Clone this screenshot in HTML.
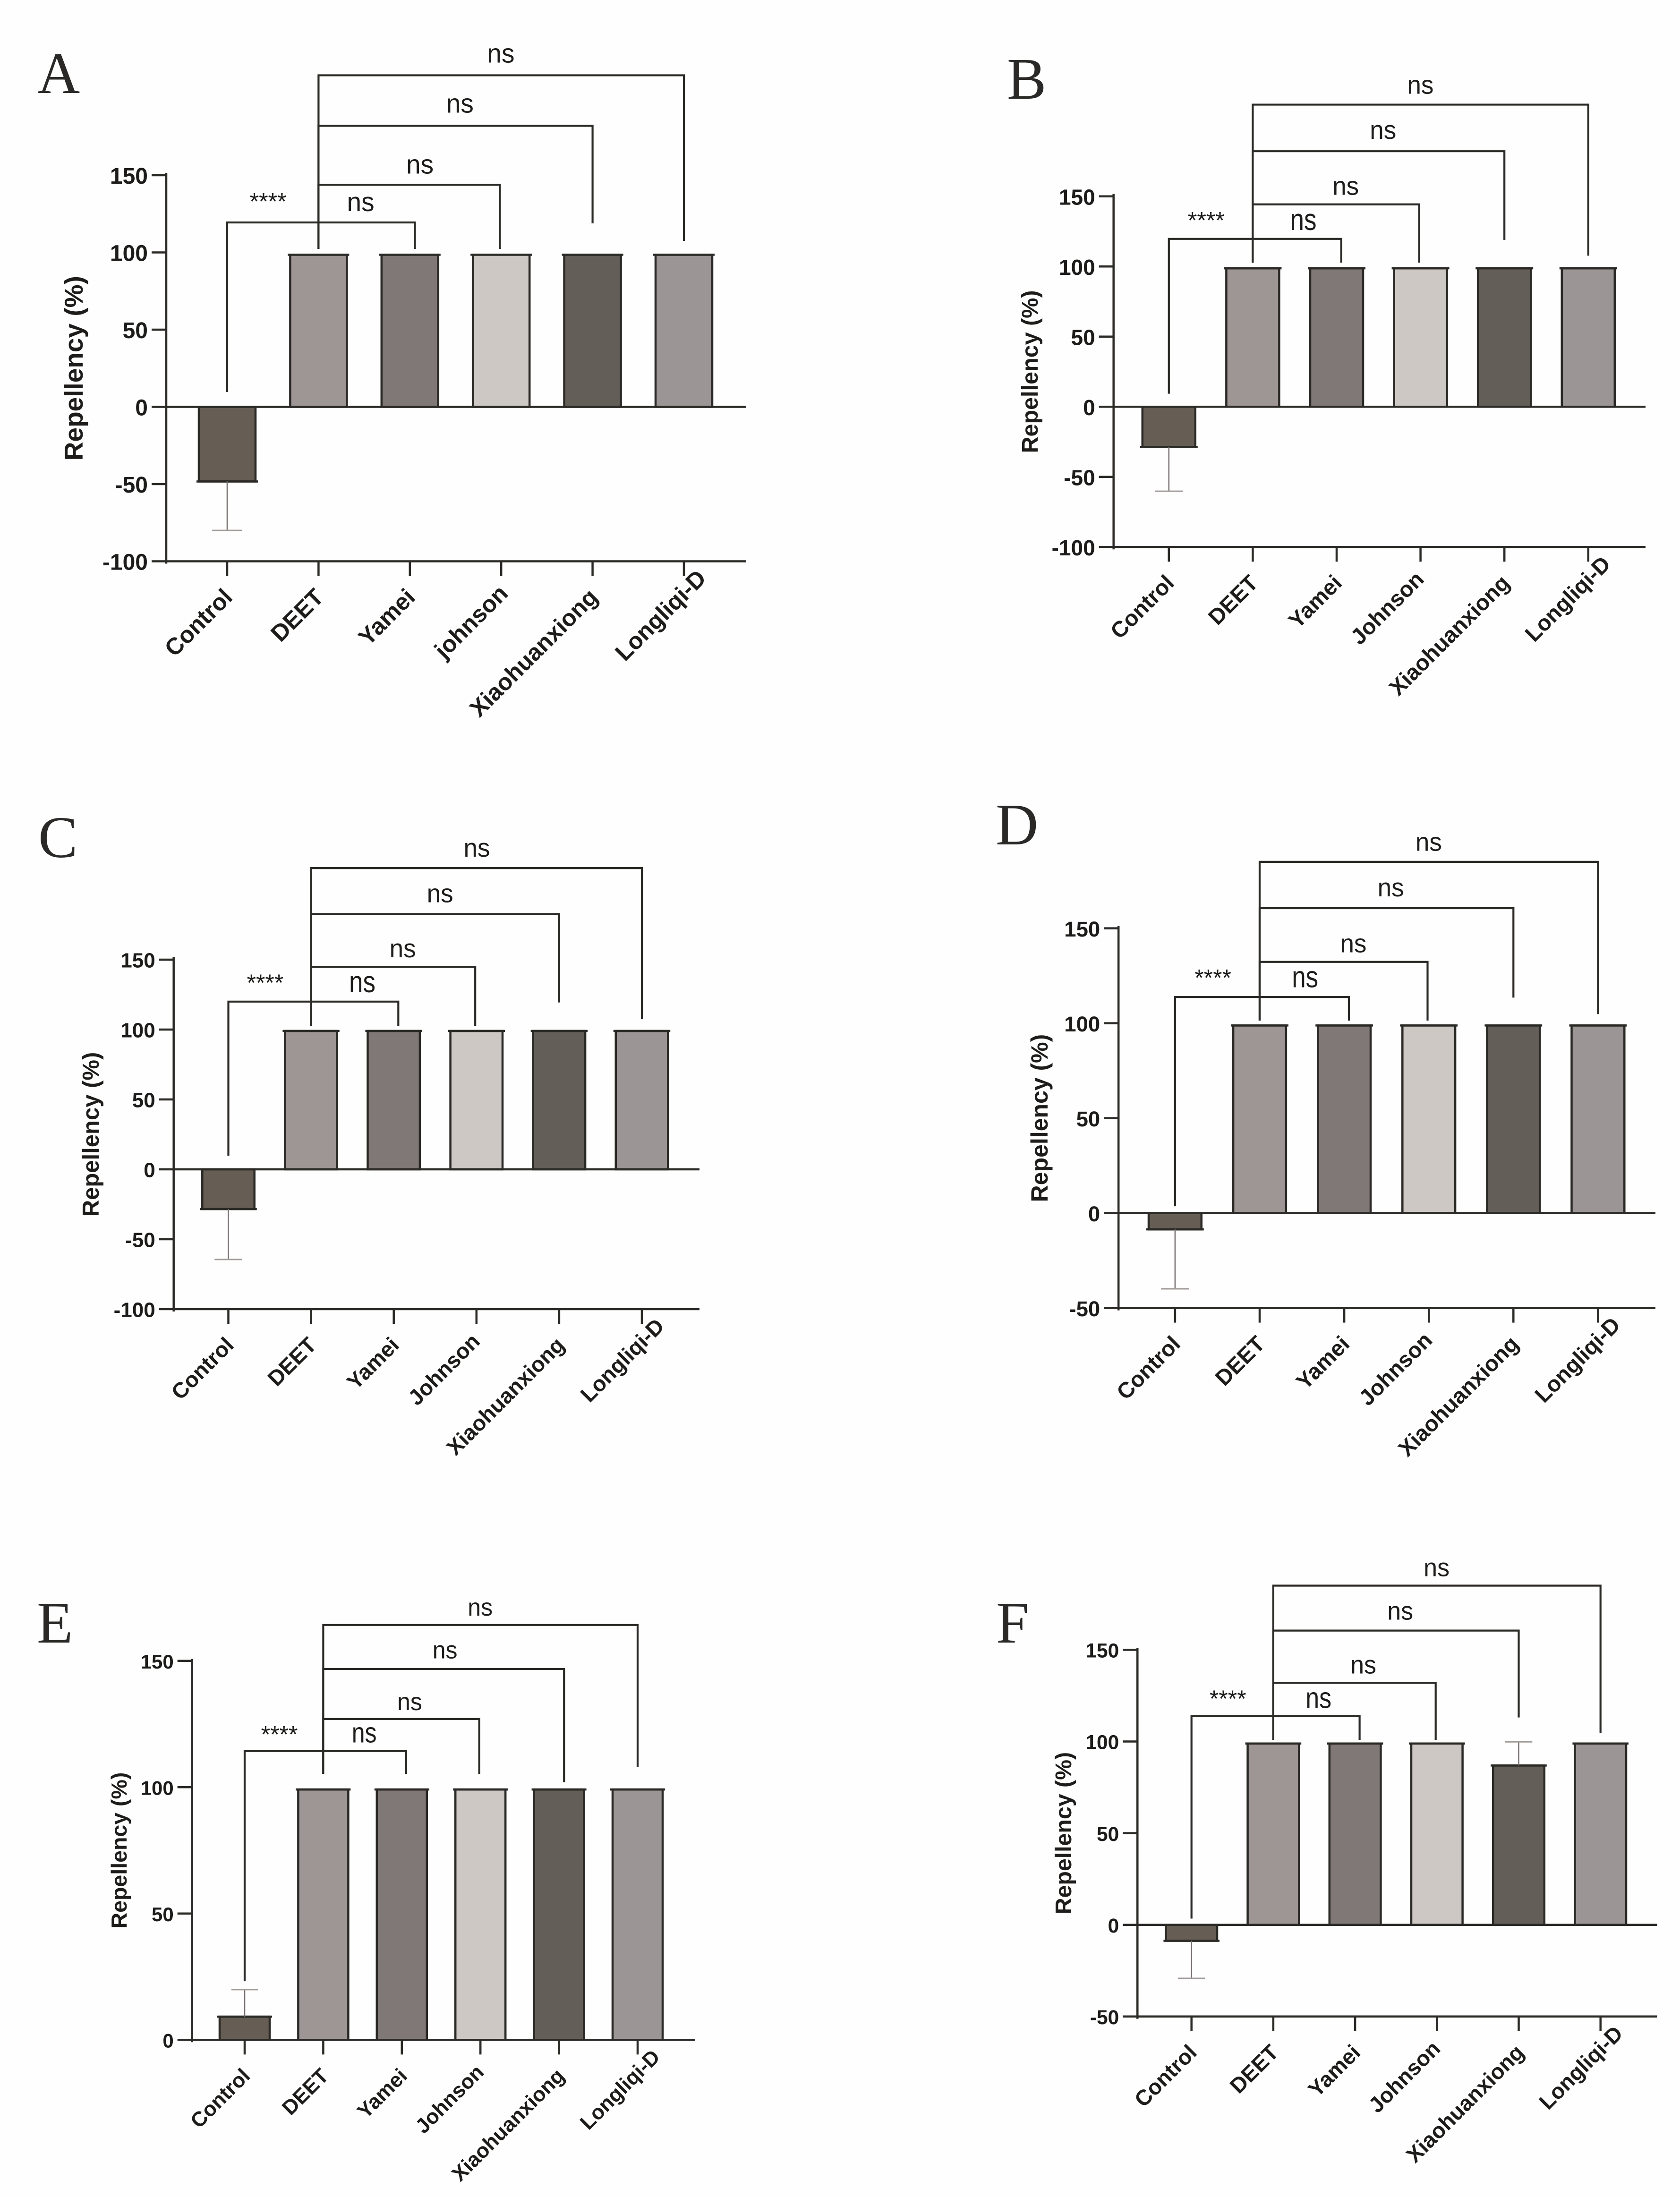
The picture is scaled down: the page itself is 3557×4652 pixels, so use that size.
<!DOCTYPE html>
<html lang="en">
<head>
<meta charset="utf-8">
<title>Repellency bar charts, panels A to F</title>
<style>
html,body{margin:0;padding:0;background:#fefefe;}
svg{display:block;}
text{fill:#1d1c1a;}
</style>
</head>
<body>
<svg id="figure" xmlns="http://www.w3.org/2000/svg" width="3557" height="4652" viewBox="0 0 3557 4652"></svg>
<script>
const categoriesA = ["Control","DEET","Yamei","johnson","Xiaohuanxiong","Longliqi-D"];
const categoriesB = ["Control","DEET","Yamei","Johnson","Xiaohuanxiong","Longliqi-D"];

const ticksWide = [150,100,50,0,-50,-100];
const ticksMid = [150,100,50,0,-50];
const ticksShort = [150,100,50,0];

const valuesA = [-48.3,98.5,98.5,98.5,98.5,98.5];
const errorsA = [-80,null,null,null,null,null];
const bracketTopsA = [119.4,143.8,182,214.7];
const leftDropsA = [9.6,102.3,102.3,102.3];
const rightDropsA = [102.3,102.3,118.8,107.4];
const labelCatsA = [1.461,2.11,2.548,2.996];
const labelValsA = [131.2,155.6,195,227.4];

const valuesB = [-28.6,98.7,98.7,98.7,98.7,98.7];
const errorsB = [-60.2,null,null,null,null,null];
const bracketTopsB = [119.7,144.3,182.2,215.4];
const leftDropsB = [9.3,102.7,102.7,102.7];
const rightDropsB = [102.7,102.7,119,107.7];
const labelCatsB = [1.603,2.108,2.553,2.999];
const labelValsB = [131.6,155.9,195.8,228];

const valuesC = [-28.4,99,99,99,99,99];
const errorsC = [-64.5,null,null,null,null,null];
const bracketTopsC = [120,144.8,182.6,215.5];
const leftDropsC = [9.7,102.6,102.6,102.6];
const rightDropsC = [102.6,102.6,119.4,107.4];
const labelCatsC = [1.619,2.108,2.559,3.004];
const labelValsC = [132.3,156.5,195.8,228.4];

const valuesD = [-8.6,98.8,98.8,98.8,98.8,98.8];
const errorsD = [-39.9,null,null,null,null,null];
const bracketTopsD = [113.8,132.3,160.6,185];
const leftDropsD = [3.6,101.4,101.4,101.4];
const rightDropsD = [101.4,101.4,113.5,104.8];
const labelCatsD = [1.537,2.108,2.55,2.998];
const labelValsD = [123,140.9,170.3,194.3];

const valuesE = [9.2,99.1,99.1,99.1,99.1,99.1];
const errorsE = [19.9,null,null,null,null,null];
const bracketTopsE = [114.3,127,146.8,164.2];
const leftDropsE = [23.2,105.3,105.3,105.3];
const rightDropsE = [105.3,105.3,102,108];
const labelCatsE = [1.521,2.1,2.549,2.997];
const labelValsE = [120.6,133,153.5,170.4];

const valuesF = [-8.7,98.9,98.9,98.9,86.9,98.9];
const errorsF = [-29.2,null,null,null,99.8,null];
const bracketTopsF = [113.8,132,160.5,185];
const leftDropsF = [3.4,100.9,100.9,100.9];
const rightDropsF = [100.9,100.9,113.1,104.6];
const labelCatsF = [1.553,2.101,2.552,2.996];
const labelValsF = [122.5,140.7,170.1,193.8];

const bracketFrom = [0,1,1,1];
const bracketTo = [2.055,2.985,4,5];
const bracketToE = [2.055,2.985,4.064,5];
const bracketText = ["ns","ns","ns","ns"];
const barFills = ["#665e55","#9d9695","#807876","#cec8c4","#645e59","#9b9695"];

const panels = [
 {id:"a",letter:"A",letterX:79,letterY:197,axisX:352,y0:861.5,unit:3.27,cat0:481,step:193.4,half:60,xEnd:1580,axisTopPad:5,
  ticks:ticksWide,cats:categoriesA,values:valuesA,errors:errorsA,tops:bracketTopsA,left:leftDropsA,right:rightDropsA,to:bracketTo,lc:labelCatsA,lv:labelValsA,
  starCat:.448,starVal:134.8,tickFont:48,catFont:50,titleFont:55,nsFont:55,titleX:175,johnsonDx:3},
 {id:"b",letter:"B",letterX:2132,letterY:209,axisX:2357.7,y0:861.3,unit:2.97,cat0:2474.8,step:177.6,half:56,xEnd:3484,axisTopPad:5,
  ticks:ticksWide,cats:categoriesB,values:valuesB,errors:errorsB,tops:bracketTopsB,left:leftDropsB,right:rightDropsB,to:bracketTo,lc:labelCatsB,lv:labelValsB,
  starCat:.445,starVal:135,tickFont:46,catFont:47,titleFont:48.5,nsFont:53,titleX:2197,johnsonDx:-4},
 {id:"c",letter:"C",letterX:81,letterY:1815,axisX:367.7,y0:2476,unit:2.96,cat0:483.5,step:175.1,half:55.2,xEnd:1481,axisTopPad:5,
  ticks:ticksWide,cats:categoriesB,values:valuesC,errors:errorsC,tops:bracketTopsC,left:leftDropsC,right:rightDropsC,to:bracketTo,lc:labelCatsC,lv:labelValsC,
  starCat:.445,starVal:135.5,tickFont:44,catFont:46,titleFont:49,nsFont:53,titleX:209,johnsonDx:-4},
 {id:"d",letter:"D",letterX:2108,letterY:1788,axisX:2368.2,y0:2568.6,unit:4.02,cat0:2487.9,step:179.1,half:55.9,xEnd:3505,axisTopPad:5,
  ticks:ticksMid,cats:categoriesB,values:valuesD,errors:errorsD,tops:bracketTopsD,left:leftDropsD,right:rightDropsD,to:bracketTo,lc:labelCatsD,lv:labelValsD,
  starCat:.448,starVal:125.4,tickFont:45.5,catFont:47,titleFont:50,nsFont:53,titleX:2218,johnsonDx:-4},
 {id:"e",letter:"E",letterX:78,letterY:3478,axisX:406.7,y0:4319.3,unit:5.35,cat0:518,step:166.4,half:53,xEnd:1472,axisTopPad:4,
  ticks:ticksShort,cats:categoriesB,values:valuesE,errors:errorsE,tops:bracketTopsE,left:leftDropsE,right:rightDropsE,to:bracketToE,lc:labelCatsE,lv:labelValsE,
  starCat:.442,starVal:122,tickFont:42,catFont:44,titleFont:46.5,nsFont:50,titleX:268,johnsonDx:-4},
 {id:"f",letter:"F",letterX:2109,letterY:3478,axisX:2408.3,y0:4075.7,unit:3.882,cat0:2522.7,step:173.2,half:54.3,xEnd:3508.5,axisTopPad:4,
  ticks:ticksMid,cats:categoriesB,values:valuesF,errors:errorsF,tops:bracketTopsF,left:leftDropsF,right:rightDropsF,to:bracketTo,lc:labelCatsF,lv:labelValsF,
  starCat:.445,starVal:124.8,tickFont:42.5,catFont:46,titleFont:48.3,nsFont:52,titleX:2268,johnsonDx:-4}
];

const NS = "http://www.w3.org/2000/svg";
const INK = "#2b2a27";
const svg = document.getElementById("figure");

function mk(parent, tag, attrs, content) {
  const el = document.createElementNS(NS, tag);
  for (const k in attrs) el.setAttribute(k, attrs[k]);
  if (content !== undefined) el.textContent = content;
  parent.appendChild(el);
  return el;
}

function drawPanel(p) {
  const yScale = v => p.y0 - v * p.unit;
  const xScale = c => p.cat0 + c * p.step;
  const minTick = Math.min.apply(null, p.ticks);
  const maxTick = Math.max.apply(null, p.ticks);
  const tickLen = 31;
  const axisY = yScale(minTick);

  const g = mk(svg, "g", {});
  
  

  const letter = mk(g, "text", {x:p.letterX, y:p.letterY, "font-family":'"Liberation Serif", serif', "font-size":125, style:"fill:#2a2927"}, p.letter);
  
  

  p.values.forEach((v, i) => {
    const top = Math.min(yScale(v), yScale(0));
    const h = Math.abs(yScale(v) - yScale(0));
    const bar = mk(g, "rect", {x:xScale(i) - p.half, y:top, width:p.half * 2, height:h, fill:barFills[i], stroke:"#2a2926", "stroke-width":4.5});
    
    
    const endCap = mk(g, "line", {x1:xScale(i) - p.half - 5, x2:xScale(i) + p.half + 5, y1:yScale(v), y2:yScale(v), stroke:"#2a2926", "stroke-width":4.5});
    
    
  });

  p.errors.forEach((e, i) => {
    if (e === null) return;
    const stem = mk(g, "line", {x1:xScale(i), x2:xScale(i), y1:yScale(p.values[i]), y2:yScale(e), stroke:"#777170", "stroke-width":2.6});
    
    
    const cap = mk(g, "line", {x1:xScale(i) - p.half * .53, x2:xScale(i) + p.half * .53, y1:yScale(e), y2:yScale(e), stroke:"#a09b99", "stroke-width":3});
    
    
  });

  const yAxis = mk(g, "line", {x1:p.axisX, x2:p.axisX, y1:yScale(maxTick) - p.axisTopPad, y2:axisY + 5, stroke:INK, "stroke-width":4.5});
  
  

  const xAxis = mk(g, "line", {x1:p.axisX, x2:p.xEnd, y1:axisY, y2:axisY, stroke:INK, "stroke-width":4.5});
  
  

  if (minTick < 0) {
    const zero = mk(g, "line", {x1:p.axisX, x2:p.xEnd, y1:yScale(0), y2:yScale(0), stroke:INK, "stroke-width":4.5});
    
    
  }

  p.ticks.forEach(t => {
    const mark = mk(g, "line", {x1:p.axisX - tickLen, x2:p.axisX, y1:yScale(t), y2:yScale(t), stroke:INK, "stroke-width":4.5});
    
    
    const lab = mk(g, "text", {x:p.axisX - tickLen - 8, y:yScale(t) + p.tickFont * .38, "text-anchor":"end", "font-family":'"Liberation Sans", sans-serif', "font-weight":"bold", "font-size":p.tickFont}, String(t));
    
    
  });

  p.cats.forEach((c, i) => {
    const mark = mk(g, "line", {x1:xScale(i), x2:xScale(i), y1:axisY, y2:axisY + tickLen, stroke:INK, "stroke-width":4.5});
    
    
    let ax = xScale(i) + 14;
    let ay = axisY + 79;
    if (i === 5) { ax += 36; ay -= 40; }
    if (i === 3) { ax += p.johnsonDx; ay -= 8; }
    const lab = mk(g, "text", {x:ax, y:ay, "text-anchor":"end", transform:"rotate(-45 " + ax + " " + ay + ")", "font-family":'"Liberation Sans", sans-serif', "font-weight":"bold", "font-size":p.catFont}, c);
    
    
  });

  const tx = p.titleX;
  const ty = (yScale(maxTick) + axisY) / 2;
  const title = mk(g, "text", {x:tx, y:ty, "text-anchor":"middle", transform:"rotate(-90 " + tx + " " + ty + ")", "font-family":'"Liberation Sans", sans-serif', "font-weight":"bold", "font-size":p.titleFont}, "Repellency (%)");
  
  

  p.tops.forEach((top, i) => {
    const d = "M" + xScale(bracketFrom[i]) + " " + yScale(p.left[i]) + "V" + yScale(top) + "H" + xScale(p.to[i]) + "V" + yScale(p.right[i]);
    const br = mk(g, "path", {d:d, fill:"none", stroke:INK, "stroke-width":4.2});
    
    
    const stretch = (i === 0 && p.id !== "a") ? 1.2 : 1.03;
    const nx = xScale(p.lc[i]);
    const ny = yScale(p.lv[i]) + p.nsFont * .26 * stretch;
    const ns = mk(g, "text", {transform:"translate(" + nx + " " + ny + ") scale(1 " + stretch + ")", "text-anchor":"middle", "font-family":'"Liberation Sans", sans-serif', "font-size":p.nsFont}, bracketText[i]);
    
    
  });

  const star = mk(g, "text", {x:xScale(p.starCat), y:yScale(p.starVal) + 23, "text-anchor":"middle", "font-family":'"Liberation Sans", sans-serif', "font-size":50}, "****");
  
  
}

panels.forEach(drawPanel);
</script>
</body>
</html>
